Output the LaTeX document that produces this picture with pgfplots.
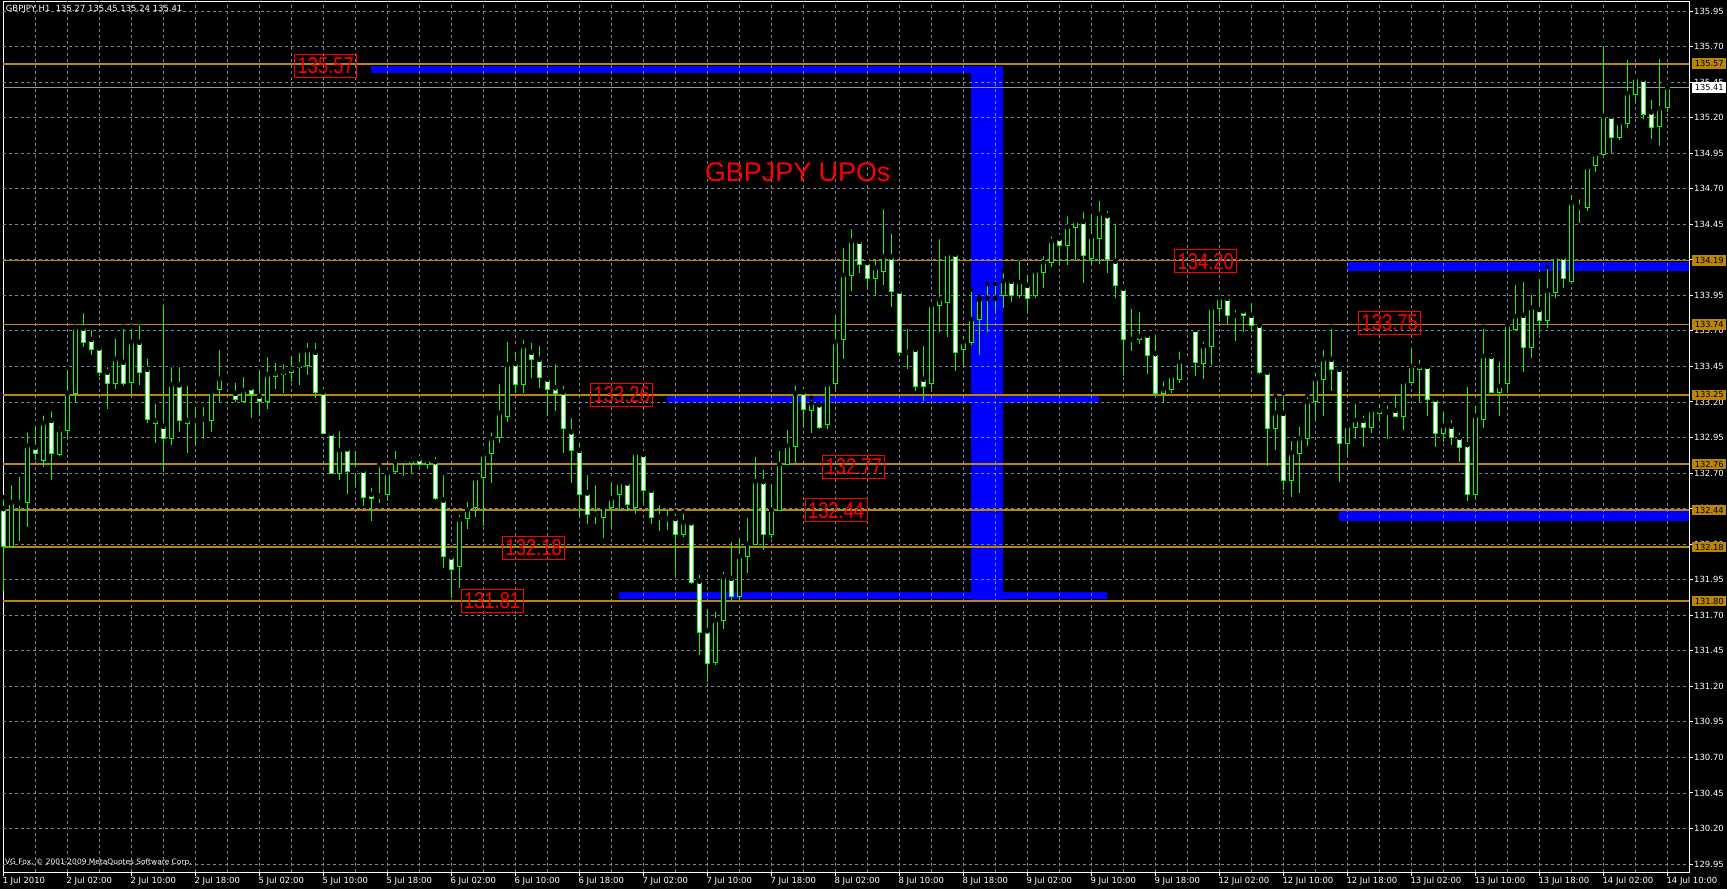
\documentclass[border=0pt]{standalone}
\usepackage{fontspec}
\setmainfont{DejaVu Sans}
\newfontfamily\arialfont{Liberation Sans}
\usepackage{graphicx}
\usepackage{pgfplots}
\usepackage{pgfplotstable}
\pgfplotsset{compat=1.18}
\definecolor{candle}{RGB}{0,255,0}
\definecolor{gridc}{RGB}{119,136,153}
\definecolor{lvl}{RGB}{184,134,11}
\definecolor{objblue}{RGB}{0,0,255}
\definecolor{objred}{RGB}{255,0,0}

\pgfplotstableread{
i O H L C
-8 132.45 132.53 131.87 132.18
-7 132.18 132.63 132.18 132.49
-6 132.49 132.69 132.22 132.49
-5 132.49 133.00 132.32 132.89
-4 132.88 133.05 132.79 132.84
-3 132.79 133.12 132.74 133.05
-2 133.07 133.15 132.65 132.84
-1 132.83 133.04 132.82 133.00
0 133.00 133.44 132.94 133.26
1 133.26 133.76 133.19 133.72
2 133.72 133.84 133.59 133.62
3 133.64 133.72 133.53 133.57
4 133.58 133.61 133.38 133.41
5 133.41 133.46 133.15 133.33
6 133.33 133.66 133.29 133.50
7 133.48 133.73 133.31 133.33
8 133.34 133.73 133.25 133.62
9 133.62 133.76 133.32 133.41
10 133.43 133.52 133.05 133.08
11 133.07 133.20 132.91 133.05
12 133.03 133.90 132.71 132.94
13 132.94 133.46 132.90 133.32
14 133.32 133.46 132.99 133.07
15 133.07 133.33 132.84 133.05
16 133.07 133.18 132.90 133.07
17 133.08 133.18 132.94 133.08
18 133.07 133.29 132.99 133.27
19 133.29 133.58 133.20 133.36
20 133.36 133.37 133.36 133.36
21 133.26 133.35 133.20 133.22
22 133.20 133.39 133.19 133.28
23 133.30 133.30 133.09 133.25
24 133.24 133.44 133.10 133.20
25 133.20 133.53 133.15 133.39
26 133.40 133.49 133.29 133.38
27 133.39 133.48 133.26 133.41
28 133.41 133.54 133.34 133.43
29 133.44 133.56 133.32 133.46
30 133.46 133.63 133.39 133.56
31 133.55 133.63 133.23 133.27
32 133.27 133.32 132.98 132.98
33 132.98 133.01 132.70 132.70
34 132.70 133.01 132.65 132.86
35 132.87 132.89 132.55 132.71
36 132.72 132.87 132.61 132.71
37 132.72 132.74 132.47 132.53
38 132.55 132.61 132.36 132.52
39 132.54 132.76 132.49 132.54
40 132.55 132.70 132.50 132.70
41 132.71 132.87 132.69 132.78
42 132.79 132.80 132.68 132.78
43 132.77 132.83 132.70 132.79
44 132.80 132.85 132.75 132.76
45 132.76 132.82 132.73 132.79
46 132.78 132.83 132.51 132.52
47 132.51 132.70 132.03 132.11
48 132.11 132.13 131.82 132.02
49 132.04 132.42 131.89 132.37
50 132.38 132.51 132.31 132.44
51 132.46 132.68 132.39 132.66
52 132.67 132.85 132.33 132.83
53 132.84 133.00 132.63 132.94
54 132.95 133.34 132.91 133.12
55 133.10 133.64 133.06 133.46
56 133.47 133.57 133.26 133.32
57 133.32 133.65 133.26 133.59
58 133.55 133.63 133.37 133.50
59 133.50 133.61 133.30 133.37
60 133.36 133.40 133.10 133.29
61 133.30 133.48 133.14 133.26
62 133.27 133.33 132.84 133.01
63 132.99 133.10 132.63 132.86
64 132.86 132.93 132.39 132.55
65 132.56 132.70 132.34 132.41
66 132.41 132.63 132.34 132.40
67 132.39 132.48 132.24 132.46
68 132.46 132.65 132.32 132.52
69 132.55 132.65 132.43 132.63
70 132.63 132.66 132.43 132.48
71 132.46 132.86 132.41 132.84
72 132.83 132.84 132.49 132.58
73 132.58 132.59 132.34 132.39
74 132.39 132.49 132.29 132.38
75 132.38 132.46 132.30 132.38
76 132.38 132.43 131.98 132.27
77 132.27 132.43 132.25 132.35
78 132.35 132.37 131.92 131.93
79 131.94 132.00 131.42 131.58
80 131.59 131.76 131.23 131.36
81 131.37 131.74 131.35 131.66
82 131.66 132.02 131.60 131.97
83 131.96 132.23 131.81 131.83
84 131.83 132.26 131.81 132.11
85 132.11 132.40 132.00 132.20
86 132.20 132.83 132.20 132.64
87 132.64 132.74 132.16 132.27
88 132.27 132.64 132.24 132.44
89 132.44 132.87 132.44 132.76
90 132.76 133.02 132.76 132.89
91 132.89 133.33 132.77 133.26
92 133.27 133.32 133.04 133.15
93 133.14 133.23 132.98 133.19
94 133.18 133.18 133.01 133.02
95 133.04 133.33 133.01 133.32
96 133.33 133.83 133.29 133.62
97 133.64 134.30 133.50 134.09
98 134.09 134.43 133.98 134.33
99 134.33 134.36 134.11 134.17
100 134.18 134.21 134.00 134.07
101 134.07 134.22 133.95 134.14
102 134.12 134.57 134.02 134.22
103 134.22 134.40 133.87 133.98
104 133.98 133.99 133.52 133.55
105 133.55 133.73 133.43 133.55
106 133.57 133.59 133.28 133.31
107 133.36 133.61 133.21 133.31
108 133.33 133.88 133.29 133.88
109 133.88 134.36 133.69 133.92
110 133.90 134.26 133.66 134.24
111 134.24 134.26 133.42 133.55
112 133.57 133.68 133.46 133.62
113 133.62 133.99 133.60 133.78
114 133.78 133.94 133.53 133.92
115 133.93 134.03 133.69 133.92
116 133.93 134.03 133.83 133.93
117 133.95 134.12 133.86 134.05
118 134.05 134.07 133.90 133.95
119 133.95 134.21 133.93 134.04
120 134.02 134.11 133.84 133.93
121 133.95 134.14 133.93 134.12
122 134.11 134.24 134.00 134.18
123 134.18 134.38 134.15 134.33
124 134.35 134.36 134.16 134.30
125 134.30 134.52 134.16 134.43
126 134.43 134.49 134.20 134.47
127 134.47 134.55 134.04 134.23
128 134.21 134.54 134.17 134.36
129 134.35 134.63 134.17 134.52
130 134.51 134.56 134.11 134.20
131 134.19 134.47 133.93 134.02
132 134.00 134.00 133.38 133.64
133 133.64 133.87 133.56 133.64
134 133.66 133.85 133.61 133.64
135 133.67 133.67 133.40 133.53
136 133.54 133.69 133.24 133.26
137 133.26 133.36 133.19 133.29
138 133.29 133.39 133.26 133.38
139 133.36 133.57 133.33 133.48
140 133.48 133.49 133.47 133.48
141 133.71 133.71 133.38 133.48
142 133.47 133.64 133.36 133.59
143 133.59 133.86 133.46 133.86
144 133.86 133.97 133.76 133.93
145 133.93 133.97 133.75 133.81
146 133.81 133.86 133.63 133.81
147 133.84 133.86 133.69 133.81
148 133.81 133.91 133.70 133.74
149 133.74 133.76 133.40 133.41
150 133.41 133.43 132.75 133.01
151 133.01 133.24 132.86 133.12
152 133.12 133.26 132.58 132.65
153 132.65 132.94 132.53 132.84
154 132.84 133.04 132.56 132.94
155 132.94 133.25 132.89 133.20
156 133.20 133.42 133.08 133.36
157 133.36 133.58 133.10 133.50
158 133.50 133.73 133.28 133.43
159 133.43 133.45 132.64 132.91
160 132.91 133.05 132.83 133.03
161 133.02 133.20 132.94 133.07
162 133.07 133.12 132.88 133.02
163 133.02 133.17 132.98 133.14
164 133.14 133.20 133.07 133.12
165 133.13 133.19 132.94 133.13
166 133.14 133.27 133.10 133.10
167 133.10 133.36 133.00 133.34
168 133.34 133.60 133.33 133.45
169 133.45 133.51 133.20 133.43
170 133.45 133.45 133.10 133.22
171 133.22 133.22 132.88 132.98
172 132.98 133.15 132.92 133.03
173 133.03 133.09 132.90 132.95
174 132.95 133.00 132.78 132.88
175 132.90 133.32 132.50 132.55
176 132.55 133.19 132.52 133.10
177 133.08 133.73 133.02 133.52
178 133.52 133.56 133.26 133.27
179 133.27 133.50 133.10 133.31
180 133.33 133.75 133.26 133.74
181 133.71 134.04 133.70 133.80
182 133.81 134.06 133.41 133.58
183 133.58 133.97 133.51 133.86
184 133.85 134.08 133.68 133.77
185 133.77 134.15 133.72 133.98
186 133.97 134.22 133.93 134.22
187 134.22 134.23 134.00 134.07
188 134.05 134.67 134.05 134.60
189 134.57 134.64 134.46 134.57
190 134.57 134.88 134.54 134.85
191 134.86 134.97 134.82 134.94
192 134.94 135.72 134.94 135.21
193 135.21 135.24 134.95 135.06
194 135.06 135.17 135.04 135.16
195 135.16 135.62 135.13 135.37
196 135.36 135.49 135.32 135.48
197 135.47 135.48 135.19 135.22
198 135.24 135.34 135.05 135.13
199 135.14 135.63 135.00 135.26
200 135.27 135.45 135.24 135.41
}\candles

\pgfplotsset{
  gridline/.style={gridc, line width=0.9bp, dash pattern=on 3bp off 3bp, forget plot},
  lvlline/.style={lvl, line width=1.8bp, forget plot},
  blueobj/.style={fill=objblue, draw=none, forget plot},
}
\tikzset{
  redlab/.style={draw=objred, line width=1bp, text=objred, inner sep=0pt,
    minimum width=62bp, minimum height=23bp, font=\arialfont\fontsize{23}{23}\selectfont},
  lvlbox/.style={fill=lvl, text=black, inner sep=0pt, minimum width=34bp,
    minimum height=10.5bp, anchor=west, xshift=3bp, font=\fontsize{8.3}{9}\selectfont},
}

\begin{document}
\begin{tikzpicture}[x=1bp,y=1bp]
\path[use as bounding box] (0,0) rectangle (1727,889);
\fill[black] (0,0) rectangle (1727,889);
\begin{axis}[
  at={(3bp,17bp)}, anchor=south west,
  width=1686bp, height=870.5bp, scale only axis,
  xmin=-8.04, xmax=202.71, ymin=129.894, ymax=136.017,
  clip=false,
  axis line style={white, line width=1bp},
  xtick={-8,0,8,16,24,32,40,48,56,64,72,80,88,96,104,112,120,128,136,144,152,160,168,176,184,192,200},
  xticklabels={1 Jul 2010, 2 Jul 02:00, 2 Jul 10:00, 2 Jul 18:00, 5 Jul 02:00, 5 Jul 10:00, 5 Jul 18:00, 6 Jul 02:00, 6 Jul 10:00, 6 Jul 18:00, 7 Jul 02:00, 7 Jul 10:00, 7 Jul 18:00, 8 Jul 02:00, 8 Jul 10:00, 8 Jul 18:00, 9 Jul 02:00, 9 Jul 10:00, 9 Jul 18:00, 12 Jul 02:00, 12 Jul 10:00, 12 Jul 18:00, 13 Jul 02:00, 13 Jul 10:00, 13 Jul 18:00, 14 Jul 02:00, 14 Jul 10:00},
  ytick={129.95,130.20,130.45,130.70,130.95,131.20,131.45,131.70,131.95,132.20,132.45,132.70,132.95,133.20,133.45,133.70,133.95,134.20,134.45,134.70,134.95,135.20,135.45,135.70,135.95},
  xtick pos=bottom, ytick pos=right, yticklabel pos=right,
  tick align=outside, major tick length=4bp,
  tick style={white, line width=1bp},
  ticklabel style={font=\fontsize{8.5}{9}\selectfont, text=white, inner sep=0pt},
  xticklabel style={anchor=north west, xshift=-1bp, yshift=-0.5bp},
  yticklabel style={anchor=west, xshift=1bp, /pgf/number format/.cd, fixed, fixed zerofill, precision=2},
  /pgf/number format/assume math mode=true,
  scaled y ticks=false,
]
% blue objects (background)
\addplot[blueobj] coordinates {(38,135.514) (113.2,135.514) (113.2,135.563) (38,135.563)};
\addplot[blueobj] coordinates {(112.96,131.80) (116.95,131.80) (116.95,135.563) (112.96,135.563)};
\addplot[blueobj] coordinates {(75,133.19) (129,133.19) (129,133.245) (75,133.245)};
\addplot[blueobj] coordinates {(69,131.812) (129.9,131.812) (129.9,131.865) (69,131.865)};
\addplot[blueobj] coordinates {(160,134.123) (202.71,134.123) (202.71,134.187) (160,134.187)};
\addplot[blueobj] coordinates {(159,132.363) (202.71,132.363) (202.71,132.433) (159,132.433)};

% grid
\pgfplotsinvokeforeach{129.95,130.20,130.45,130.70,130.95,131.20,131.45,131.70,131.95,132.20,132.45,132.70,132.95,133.20,133.45,133.70,133.95,134.20,134.45,134.70,134.95,135.20,135.45,135.70,135.95}{
  \addplot[gridline] coordinates {(-8.04,#1) (202.71,#1)};
}
\pgfplotsinvokeforeach{-4,0,4,8,12,16,20,24,28,32,36,40,44,48,52,56,60,64,68,72,76,80,84,88,92,96,100,104,108,112,116,120,124,128,132,136,140,144,148,152,156,160,164,168,172,176,180,184,188,192,196,200}{
  \addplot[gridline] coordinates {(#1,129.894) (#1,136.017)};
}

% level lines
\pgfplotsinvokeforeach{135.58,134.195,133.745,133.25,132.763,132.44,132.18,131.80}{
  \addplot[lvlline] coordinates {(-8.04,#1) (202.71,#1)};
}
% current price line
\addplot[forget plot, color={rgb,255:red,150;green,150;blue,150}, line width=0.8bp] coordinates {(-8.04,135.41) (202.71,135.41)};

% candles: wicks
\addplot[only marks, mark=none, forget plot,
  error bars/.cd, y dir=minus, y explicit, error mark=none,
  error bar style={draw=candle, line width=1bp, solid}]
  table[x=i, y=H, y error minus expr={\thisrow{H}-\thisrow{L}}] {\candles};
% body outline
\addplot[only marks, mark=none, forget plot,
  error bars/.cd, y dir=minus, y explicit, error mark=none,
  error bar style={draw=candle, line width=5bp, solid, line cap=butt}]
  table[x=i, y expr={max(\thisrow{O},\thisrow{C})+0.0035},
        y error minus expr={abs(\thisrow{O}-\thisrow{C})+0.007}] {\candles};
% body inner black
\addplot[only marks, mark=none, forget plot,
  error bars/.cd, y dir=minus, y explicit, error mark=none,
  error bar style={draw=black, line width=3bp, solid, line cap=butt}]
  table[x=i, y expr={max(\thisrow{O},\thisrow{C})-0.0035},
        y error minus expr={max(0,abs(\thisrow{O}-\thisrow{C})-0.007)}] {\candles};
% body inner white for bearish candles
\addplot[only marks, mark=none, forget plot,
  error bars/.cd, y dir=minus, y explicit, error mark=none,
  error bar style={draw=white, line width=3bp, solid, line cap=butt}]
  table[x=i, y expr={max(\thisrow{O},\thisrow{C})-0.0035},
        y error minus expr={(\thisrow{C}<\thisrow{O}) ? max(0,abs(\thisrow{O}-\thisrow{C})-0.007) : 0}] {\candles};

% red level labels
\node[redlab] at (axis cs:32.3,135.563) {\scalebox{0.8}[1]{135.57}};
\node[redlab] at (axis cs:69.3,133.252) {\scalebox{0.8}[1]{133.26}};
\node[redlab] at (axis cs:58.3,132.173) {\scalebox{0.8}[1]{132.18}};
\node[redlab] at (axis cs:53.1,131.80) {\scalebox{0.8}[1]{131.81}};
\node[redlab] at (axis cs:98.3,132.746) {\scalebox{0.8}[1]{132.77}};
\node[redlab] at (axis cs:96.1,132.437) {\scalebox{0.8}[1]{132.44}};
\node[redlab] at (axis cs:142.3,134.19) {\scalebox{0.8}[1]{134.20}};
\node[redlab] at (axis cs:165.3,133.755) {\scalebox{0.8}[1]{133.75}};

% title
\node[text=objred, font=\arialfont\fontsize{27}{27}\selectfont] at (axis cs:91.3,134.818) {GBPJPY UPOs};

% header and watermark
\node[anchor=west, text=white, inner sep=0pt, font=\fontsize{8.5}{9}\selectfont] at (axis cs:-7.7,135.964) {GBPJPY,H1\ \ 135.27 135.45 135.24 135.41};
\node[anchor=west, text=white, inner sep=0pt, font=\fontsize{7.5}{9}\selectfont] at (axis cs:-7.8,129.964) {VG Fox, © 2001-2009 MetaQuotes Software Corp.};

% right axis level boxes
\node[lvlbox] at (axis cs:202.71,135.58) {135.57};
\node[lvlbox] at (axis cs:202.71,134.195) {134.19};
\node[lvlbox] at (axis cs:202.71,133.745) {133.74};
\node[lvlbox] at (axis cs:202.71,133.25) {133.25};
\node[lvlbox] at (axis cs:202.71,132.763) {132.76};
\node[lvlbox] at (axis cs:202.71,132.44) {132.44};
\node[lvlbox] at (axis cs:202.71,132.18) {132.18};
\node[lvlbox] at (axis cs:202.71,131.80) {131.80};
\node[lvlbox, fill=white, minimum height=11bp] at (axis cs:202.71,135.41) {135.41};
\end{axis}
\end{tikzpicture}
\end{document}
